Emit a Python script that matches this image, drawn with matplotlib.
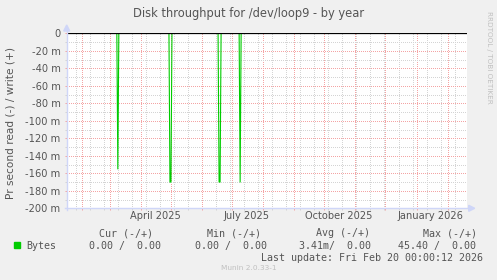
import matplotlib
matplotlib.use("Agg")
import matplotlib.pyplot as plt
import numpy as np
import pandas as pd
from matplotlib.patches import Polygon

# data (daily consolidated values, mostly 0)
start = pd.Timestamp("2025-01-17")
end = pd.Timestamp("2026-02-20")
spike_dates = pd.to_datetime(["2025-03-09", "2025-04-30", "2025-05-01",
                              "2025-06-18", "2025-06-19", "2025-07-09"])
spike_values = [-0.155, -0.170, -0.170, -0.170, -0.170, -0.170]

y_ticks = [0, -0.02, -0.04, -0.06, -0.08, -0.10, -0.12, -0.14, -0.16, -0.18, -0.20]
y_labels = ["0", "-20 m", "-40 m", "-60 m", "-80 m", "-100 m", "-120 m",
            "-140 m", "-160 m", "-180 m", "-200 m"]
x_label_dates = pd.to_datetime(["2025-04-15", "2025-07-15", "2025-10-15", "2026-01-15"])
x_labels = ["April 2025", "July 2025", "October 2025", "January 2026"]

legend_headers = ["Cur (-/+)", "Min (-/+)", "Avg (-/+)", "Max (-/+)"]
legend_values = ["0.00 /  0.00", "0.00 /  0.00", "3.41m/  0.00", "45.40 /  0.00"]

days = pd.date_range(start, end, freq="D")
read = pd.Series(0.0, index=days)
read[spike_dates] = spike_values

W, H = 497, 280
BG = "#f0f0f0"
FONT = "#555555"
MGRID = "#f4a4a4"
GRID = "#d4d4d4"
AXIS = "#cfd6f8"

fig = plt.figure(figsize=(W / 100, H / 100), dpi=100, facecolor=BG)
L, R, T, B = 66.7, 466.7, 33.3, 208.3
ax = fig.add_axes([L / W, 1 - B / H, (R - L) / W, (B - T) / H])
ax.set_facecolor("white")
for s in ax.spines.values():
    s.set_visible(False)

ax.set_xlim(start, end)
ax.set_ylim(-0.2, 0)

ax.set_xticks(pd.date_range("2025-02-01", "2026-02-01", freq="MS"))
ax.set_xticks(pd.date_range("2025-01-26", "2026-02-20", freq="14D"), minor=True)
ax.set_xticklabels([])
ax.set_yticks(y_ticks)
ax.set_yticklabels(y_labels)
ax.set_yticks(np.arange(-0.19, 0, 0.02), minor=True)

ax.grid(True, which="minor", color=GRID, linestyle=(0, (1, 1.5)), linewidth=0.72,
        antialiased=False)
ax.grid(True, which="major", color=MGRID, linestyle=(0, (1, 1.5)), linewidth=0.72,
        antialiased=False)
ax.tick_params(which="major", length=1.5, width=0.72, color=MGRID, pad=3,
               labelsize=7.1, labelcolor=FONT)
ax.tick_params(which="minor", length=1.5, width=0.72, color=GRID)

ax.plot(days, read.values, color="#00cc00", linewidth=0.8, zorder=3)
ax.axhline(0, color="black", linewidth=0.9, zorder=4)

for d, lab in zip(x_label_dates, x_labels):
    ax.annotate(lab, xy=(d, 0), xycoords=("data", "axes fraction"),
                xytext=(0, -8), textcoords="offset pixels",
                ha="center", va="center", fontsize=7.1, color=FONT)

# overlay in pixel coordinates for the frame decorations and legend
ov = fig.add_axes([0, 0, 1, 1], facecolor="none")
ov.set_xlim(0, W)
ov.set_ylim(H, 0)
ov.axis("off")

ov.plot([L, L], [B + 2, 29], color=AXIS, linewidth=1.0)
ov.plot([L - 2, R + 3], [B, B], color=AXIS, linewidth=1.0)
ov.add_patch(Polygon([[L - 3, 31], [L + 3, 31], [L, 25]], closed=True, color=AXIS))
ov.add_patch(Polygon([[R + 2, B - 3], [R + 2, B + 3], [R + 8, B]], closed=True, color=AXIS))

ov.text(W / 2, 13.5, "Disk throughput for /dev/loop9 - by year", ha="center", va="center",
        fontsize=8.3, color=FONT)
ov.text(10.5, (T + B) / 2 + 2, "Pr second read (-) / write (+)", rotation=90,
        ha="center", va="center", fontsize=7.6, color=FONT)
ov.text(489.5, 57, "RRDTOOL / TOBI OETIKER", rotation=-90, ha="center", va="center",
        fontsize=5.2, color="#c0c0c0")

mono = "DejaVu Sans Mono"
header_x = [98.7, 207.3, 316.0, 423.3]
value_x = [89.3, 194.7, 299.3, 398.3]
for hx, h in zip(header_x, legend_headers):
    ov.text(hx, 233.3, h, ha="left", va="center", fontsize=7.2, family=mono, color=FONT)
for vx, v in zip(value_x, legend_values):
    ov.text(vx, 245.7, v, ha="left", va="center", fontsize=7.2, family=mono, color=FONT)
ov.add_patch(plt.Rectangle((14, 242.3), 6, 6, color="#00cc00"))
ov.text(26.7, 245.7, "Bytes", ha="left", va="center", fontsize=7.2, family=mono, color=FONT)
ov.text(261.3, 257.7, "Last update: Fri Feb 20 00:00:12 2026", ha="left", va="center",
        fontsize=7.2, family=mono, color=FONT)
ov.text(248.5, 268.3, "Munin 2.0.33-1", ha="center", va="center", fontsize=5.3, color="#c0c0c0")

fig.savefig("out.png", dpi=100, facecolor=BG)
